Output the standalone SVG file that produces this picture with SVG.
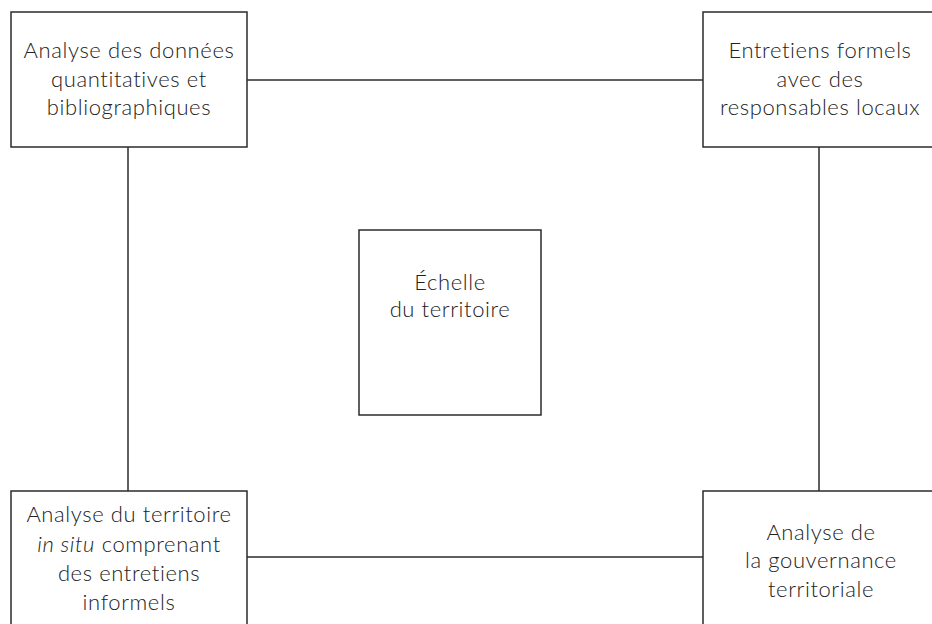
<svg xmlns="http://www.w3.org/2000/svg" width="932" height="624" viewBox="0 0 932 624">
<style>
.box{fill:#fff;stroke:#2b2b2b;stroke-width:1.5}
.ln{stroke:#2b2b2b;stroke-width:1.5;fill:none}
text{font-family:"Lato","Open Sans",sans-serif;font-size:22px;fill:#222;text-anchor:middle;font-weight:300;letter-spacing:0.6px;font-variant-ligatures:none}
</style>
<rect width="932" height="624" fill="#fff"/>
<g id="connectors">
<line class="ln" x1="247" y1="80" x2="703" y2="80"/>
<line class="ln" x1="128" y1="147" x2="128" y2="491"/>
<line class="ln" x1="819" y1="147" x2="819" y2="491"/>
<line class="ln" x1="247" y1="557" x2="703" y2="557"/>
</g>
<g id="n1">
<rect class="box" x="11" y="12" width="236" height="135"/>
<text x="129" y="58">Analyse des données</text>
<text x="129" y="87">quantitatives et</text>
<text x="129" y="115">bibliographiques</text>
</g>
<g id="n2">
<rect class="box" x="703" y="12" width="236" height="135"/>
<text x="820" y="58">Entretiens formels</text>
<text x="820" y="87">avec des</text>
<text x="820" y="115">responsables locaux</text>
</g>
<g id="n3">
<rect class="box" x="359" y="230" width="182" height="185"/>
<text x="450" y="290">Échelle</text>
<text x="450" y="317">du territoire</text>
</g>
<g id="n4">
<rect class="box" x="11" y="491" width="236" height="140"/>
<text x="129" y="522">Analyse du territoire</text>
<text x="129" y="552"><tspan font-style="italic">in situ</tspan> comprenant</text>
<text x="129" y="581">des entretiens</text>
<text x="129" y="610">informels</text>
</g>
<g id="n5">
<rect class="box" x="703" y="491" width="236" height="140"/>
<text x="821" y="540">Analyse de</text>
<text x="821" y="568">la gouvernance</text>
<text x="821" y="597">territoriale</text>
</g>
</svg>
